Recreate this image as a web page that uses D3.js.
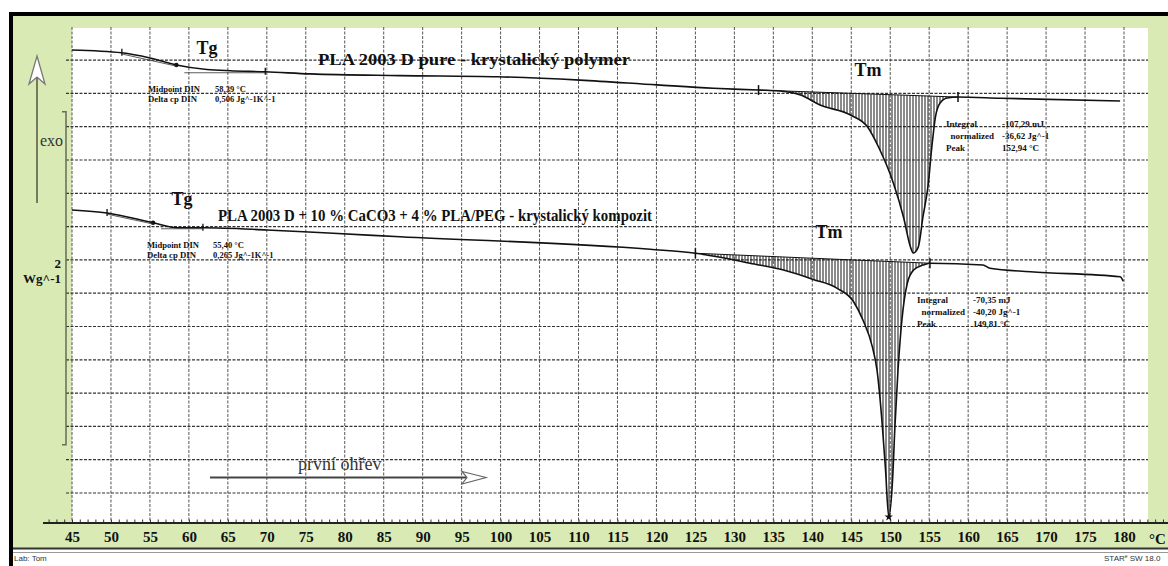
<!DOCTYPE html>
<html><head><meta charset="utf-8">
<script src="https://cdn.jsdelivr.net/npm/d3@7"></script>
<style>html,body{margin:0;padding:0;background:#fff;overflow:hidden}</style>
</head><body><svg id="c" width="1168" height="566"></svg>
<script>
// DSC thermograms, first heating: PLA 2003 D pure vs. PLA + CaCO3 + PLA/PEG composite
const tickTemps = d3.range(45, 181, 5);          // °C labels on the temperature axis
const gridHF = d3.range(0.2, 2.81, 0.2);         // W/g grid levels

// PLA 2003 D pure (heat flow, W/g, shifted)
const pureT  = [45, 51.4, 55.0, 58.39, 62.3, 65.3, 69.8, 75.6, 87.1, 99.6, 110.2, 120.1, 127.3, 133.1, 135.9, 138.5, 141.0, 144.9, 147.1, 148.5, 150.4, 151.7, 152.6, 152.94, 153.6, 154.2, 154.9, 155.3, 155.8, 156.4, 157.3, 158.7, 164.1, 179.5];
const pureHF = [2.861, 2.844, 2.813, 2.771, 2.744, 2.736, 2.730, 2.717, 2.707, 2.700, 2.680, 2.651, 2.631, 2.620, 2.614, 2.590, 2.530, 2.470, 2.398, 2.278, 2.062, 1.858, 1.677, 1.641, 1.677, 1.858, 2.062, 2.260, 2.458, 2.542, 2.572, 2.578, 2.571, 2.554];

// PLA 2003 D + 10 % CaCO3 + 4 % PLA/PEG
const compT  = [45, 49.5, 55.4, 58.5, 61.8, 70.0, 78.5, 87.1, 119.2, 125.0, 127.8, 132.0, 136.3, 140.1, 143.2, 145.3, 146.5, 147.7, 148.3, 149.0, 149.4, 149.81, 150.3, 150.6, 151.0, 151.5, 152.2, 153.0, 154.2, 155.1, 161.9, 162.8, 168.0, 179.5, 179.9];
const compHF = [1.900, 1.882, 1.823, 1.793, 1.793, 1.780, 1.760, 1.739, 1.664, 1.640, 1.619, 1.580, 1.539, 1.483, 1.429, 1.349, 1.239, 1.079, 0.939, 0.596, 0.338, 0.056, 0.278, 0.596, 0.939, 1.239, 1.461, 1.539, 1.569, 1.580, 1.569, 1.550, 1.529, 1.499, 1.473];

// evaluation marks (°C)
const pureTgMarks = [51.4, 58.39, 69.8];
const compTgMarks = [49.5, 55.4, 61.8];
const pureMeltLimits = [133.1, 158.7];
const compMeltLimits = [125.0, 155.1];
const compPeakT = 149.81;

// evaluation texts
const pureTgLines = [["Midpoint DIN", "58,39 °C"], ["Delta cp DIN", "0,506 Jg^-1K^-1"]];
const compTgLines = [["Midpoint DIN", "55,40 °C"], ["Delta cp DIN", "0,265 Jg^-1K^-1"]];
const pureMeltLines = [["Integral", "-107,29 mJ"], ["normalized", "-36,62 Jg^-1"], ["Peak", "152,94 °C"]];
const compMeltLines = [["Integral", "-70,35 mJ"], ["normalized", "-40,20 Jg^-1"], ["Peak", "149,81 °C"]];
const scaleBar = [0.49, 2.49];   // 2 W/g

const svg = d3.select("#c");
const W = 1168, H = 566;
const plot = {left: 72, right: 1148, top: 28, bottom: 523};
const x = d3.scaleLinear().domain([45, 180]).range([72, 1124]);
const y = d3.scaleLinear().domain([0, 3]).range([526.3, 26.8]);
const serif = "'Liberation Serif','Times New Roman',serif";
const green = "#d9eab5";

// frame
svg.append("rect").attr("x", 0).attr("y", 0).attr("width", W).attr("height", H).attr("fill", "#fff");
svg.append("rect").attr("x", 12).attr("y", 14).attr("width", W).attr("height", 534).attr("fill", green);
svg.append("rect").attr("x", plot.left).attr("y", plot.top).attr("width", plot.right - plot.left).attr("height", plot.bottom - plot.top).attr("fill", "#fff");
svg.append("rect").attr("x", 10).attr("y", 12).attr("width", W).attr("height", 4).attr("fill", "#000");
svg.append("rect").attr("x", 9).attr("y", 12).attr("width", 4).attr("height", H).attr("fill", "#000");
svg.append("line").attr("x1", 13).attr("x2", W).attr("y1", 548.5).attr("y2", 548.5).attr("stroke", "#333").attr("stroke-width", 2);
svg.append("line").attr("x1", 13).attr("x2", W).attr("y1", 552.5).attr("y2", 552.5).attr("stroke", "#999").attr("stroke-width", 1);

// grid
const grid = svg.append("g");
grid.selectAll("line.v").data(tickTemps).join("line")
  .attr("x1", d => x(d)).attr("x2", d => x(d)).attr("y1", 27).attr("y2", plot.bottom)
  .attr("stroke", "#555").attr("stroke-width", 1).attr("stroke-dasharray", "3,1.5");
grid.selectAll("line.h").data(gridHF).join("line")
  .attr("x1", 66).attr("x2", plot.right).attr("y1", d => y(d)).attr("y2", d => y(d))
  .attr("stroke", "#333").attr("stroke-width", 1.2).attr("stroke-dasharray", "3,1.5");

// temperature axis
const axisG = svg.append("g").attr("transform", `translate(0,${plot.bottom})`);
axisG.call(d3.axisBottom(x).tickValues(d3.range(42, 187, 1)).tickSize(-3.5).tickFormat(""));
axisG.select(".domain").remove();
axisG.selectAll(".tick line").attr("stroke", "#333");
axisG.append("line").attr("x1", 43).attr("x2", W).attr("y1", 0).attr("y2", 0).attr("stroke", "#222").attr("stroke-width", 2);
const labG = svg.append("g").attr("transform", `translate(0,${plot.bottom})`);
labG.call(d3.axisBottom(x).tickValues(tickTemps).tickSize(0).tickPadding(8).tickFormat(d3.format("d")));
labG.select(".domain").remove();
labG.selectAll("text").attr("font-family", serif).attr("font-weight", "bold").attr("font-size", 15).attr("fill", "#111");
svg.append("text").attr("x", 1149).attr("y", 544).attr("font-family", serif).attr("font-weight", "bold")
  .attr("font-size", 15).attr("fill", "#111").text("°C");

// hatching for the evaluated peaks
const defs = svg.append("defs");
const pat = defs.append("pattern").attr("id", "hatch").attr("patternUnits", "userSpaceOnUse")
  .attr("width", 3).attr("height", 10);
pat.append("line").attr("x1", 1).attr("x2", 1).attr("y1", 0).attr("y2", 10).attr("stroke", "#111").attr("stroke-width", 1.1);

function series(T, V) { return T.map((t, i) => ({t, v: V[i]})); }
function valueAt(pts, t) {
  const i = d3.bisector(d => d.t).left(pts, t);
  if (i <= 0) return pts[0].v;
  if (i >= pts.length) return pts[pts.length - 1].v;
  const a = pts[i - 1], b = pts[i];
  return a.v + (b.v - a.v) * (t - a.t) / (b.t - a.t);
}
const line = d3.line().x(d => x(d.t)).y(d => y(d.v)).curve(d3.curveMonotoneX);

function drawCurve(pts, lim, tgMarks, peakT) {
  const va = valueAt(pts, lim[0]), vb = valueAt(pts, lim[1]);
  const base = t => va + (vb - va) * (t - lim[0]) / (lim[1] - lim[0]);
  const seg = pts.filter(d => d.t >= lim[0] && d.t <= lim[1]);
  const area = d3.area().x(d => x(d.t)).y0(d => y(base(d.t))).y1(d => y(d.v)).curve(d3.curveMonotoneX);
  svg.append("path").datum(seg).attr("d", area).attr("fill", "url(#hatch)").attr("opacity", 0.9);
  svg.append("line").attr("x1", x(lim[0])).attr("x2", x(lim[1])).attr("y1", y(va)).attr("y2", y(vb))
    .attr("stroke", "#111").attr("stroke-width", 1);
  svg.append("path").datum(pts).attr("d", line).attr("fill", "none").attr("stroke", "#111").attr("stroke-width", 1.6);
  lim.forEach(t => {
    const yy = y(valueAt(pts, t));
    svg.append("line").attr("x1", x(t)).attr("x2", x(t)).attr("y1", yy - 5).attr("y2", yy + 5)
      .attr("stroke", "#111").attr("stroke-width", 1.5);
  });
  tgMarks.forEach((t, i) => {
    const yy = y(valueAt(pts, t));
    if (i === 1) {
      svg.append("circle").attr("cx", x(t)).attr("cy", yy).attr("r", 2.2).attr("fill", "#111");
    } else {
      svg.append("line").attr("x1", x(t)).attr("x2", x(t)).attr("y1", yy - 4).attr("y2", yy + 3)
        .attr("stroke", "#111").attr("stroke-width", 1.3);
    }
  });
  // Tg tangents
  const t0 = tgMarks[0], t2 = tgMarks[2];
  svg.append("line").attr("x1", x(t0)).attr("x2", x(tgMarks[1]))
    .attr("y1", y(valueAt(pts, t0)) + 1.2).attr("y2", y(valueAt(pts, tgMarks[1])) + 1.2)
    .attr("stroke", "#333").attr("stroke-width", 0.8);
  svg.append("line").attr("x1", x(tgMarks[1]) + 8).attr("x2", x(t2))
    .attr("y1", y(valueAt(pts, t2)) + 1).attr("y2", y(valueAt(pts, t2)) + 1)
    .attr("stroke", "#333").attr("stroke-width", 0.8);
  if (peakT !== null) {
    svg.append("path").attr("d", d3.symbol(d3.symbolStar, 22)())
      .attr("transform", `translate(${x(peakT)},${y(valueAt(pts, peakT))})`).attr("fill", "#111");
  }
}
drawCurve(series(pureT, pureHF), pureMeltLimits, pureTgMarks, null);
drawCurve(series(compT, compHF), compMeltLimits, compTgMarks, compPeakT);

// texts
function txt(xp, yp, s, size, weight, anchor) {
  return svg.append("text").attr("x", xp).attr("y", yp).attr("font-family", serif)
    .attr("font-size", size).attr("font-weight", weight || "normal").attr("text-anchor", anchor || "start")
    .attr("fill", "#111").text(s);
}
txt(207, 54, "Tg", 18, "bold", "middle");
txt(318, 65, "PLA 2003 D pure - krystalický polymer", 17, "bold").attr("textLength", 312).attr("lengthAdjust", "spacingAndGlyphs");
txt(182, 205, "Tg", 18, "bold", "middle");
txt(218, 221, "PLA 2003 D + 10 % CaCO3 + 4 % PLA/PEG - krystalický kompozit", 17, "bold").attr("textLength", 434).attr("lengthAdjust", "spacingAndGlyphs");
txt(868, 76, "Tm", 18, "bold", "middle");
txt(829, 238, "Tm", 18, "bold", "middle");

function tgBlock(x0, x1, yb, rows) {
  rows.forEach((r, i) => {
    txt(x0, yb + i * 10, r[0], 8.5, "bold").attr("textLength", r[0] === "Midpoint DIN" ? 52 : 49).attr("lengthAdjust", "spacingAndGlyphs");
    txt(x1, yb + i * 10, r[1], 8.5, "bold");
  });
}
tgBlock(148, 215, 92, pureTgLines);
tgBlock(147, 213, 248, compTgLines);

function meltBlock(x0, xr, x1, yb, rows) {
  rows.forEach((r, i) => {
    if (r[0] === "normalized") txt(xr, yb + i * 12, r[0], 9, "bold", "end");
    else txt(x0, yb + i * 12, r[0], 9, "bold");
    txt(x1, yb + i * 12, r[1], 9, "bold");
  });
}
meltBlock(946, 994, 1002, 127, pureMeltLines);
meltBlock(917, 965, 973, 303, compMeltLines);

// heating direction arrow
txt(298, 470, "první ohřev", 18, "normal").attr("fill", "#333");
svg.append("line").attr("x1", 210).attr("x2", 466).attr("y1", 477.5).attr("y2", 477.5).attr("stroke", "#444").attr("stroke-width", 2);
svg.append("path").attr("d", "M462,471.5 L486,477.5 L462,484 L467,477.5 Z").attr("fill", "#fff").attr("stroke", "#666").attr("stroke-width", 1.2);

// exo arrow and heat-flow scale bar
svg.append("line").attr("x1", 37).attr("x2", 37).attr("y1", 76).attr("y2", 203).attr("stroke", "#5a5f4a").attr("stroke-width", 1.6);
svg.append("path").attr("d", "M37,56 L45,84 L37,77 L29,84 Z").attr("fill", "#fff").attr("stroke", "#777").attr("stroke-width", 1.3);
txt(40, 146, "exo", 16, "normal").attr("fill", "#333");
svg.append("path")
  .attr("d", `M62,${y(scaleBar[1])} H66 V${y(scaleBar[0])} H62`)
  .attr("fill", "none").attr("stroke", "#6a6a58").attr("stroke-width", 1.5);
txt(61, 268, "2", 13, "bold", "end");
txt(61, 283, "Wg^-1", 13, "bold", "end");

// footer
svg.append("text").attr("x", 14).attr("y", 561).attr("font-family", "'Liberation Sans',Arial,sans-serif")
  .attr("font-size", 8).attr("fill", "#333").text("Lab: Tom");
const star = svg.append("text").attr("x", 1104).attr("y", 561).attr("font-family", "'Liberation Sans',Arial,sans-serif")
  .attr("font-size", 8).attr("fill", "#333");
star.append("tspan").text("STAR");
star.append("tspan").attr("font-size", 5).attr("dy", -3).text("e");
star.append("tspan").attr("dy", 3).text(" SW 18.0");
</script></body></html>
